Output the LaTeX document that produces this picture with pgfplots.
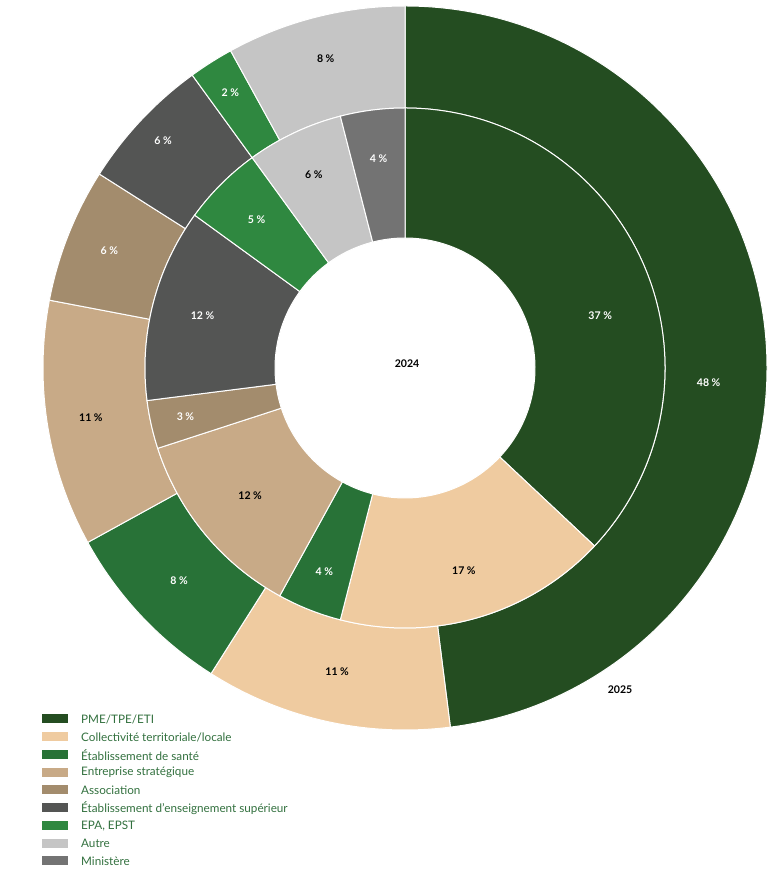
\documentclass[border=0pt]{standalone}
\usepackage{pgfplots}
\pgfplotsset{compat=1.18}
\usepackage{pgfplotstable}
\usepackage{fontspec}
\setmainfont{Lato}

% segment colours
\definecolor{cPME}{RGB}{36,77,33}
\definecolor{cCol}{RGB}{239,203,160}
\definecolor{cSan}{RGB}{40,114,55}
\definecolor{cEnt}{RGB}{200,170,135}
\definecolor{cAss}{RGB}{163,140,109}
\definecolor{cSup}{RGB}{84,85,84}
\definecolor{cEpa}{RGB}{47,136,64}
\definecolor{cAut}{RGB}{197,197,197}
\definecolor{cMin}{RGB}{115,115,115}
\definecolor{legtext}{RGB}{50,112,62}

% 2025 -- outer ring (share in %, fill, label colour, label radius, label angle shift)
\pgfplotstableread{
val col  tc    lr  off
48  cPME white 304 -6.4
11  cCol black 311 0
8   cSan white 310 0
11  cEnt black 318 0
6   cAss white 318 0
6   cSup white 332 0
2   cEpa white 326 0
8   cAut black 319 0
}\outerdata

% 2024 -- inner ring
\pgfplotstableread{
val col  tc    lr  off
37  cPME white 202 -8.5
17  cCol black 211 0
4   cSan white 219 0
12  cEnt black 201 0
3   cAss white 225 0
12  cSup white 209 0
5   cEpa white 210 0
6   cAut black 214 0
4   cMin white 211 0
}\innerdata

\newcommand\labelfont{\bfseries\fontsize{10.6}{12}\selectfont}

% #1 table, #2 inner radius, #3 outer radius (bp); wedges run clockwise from 12 o'clock
\newcommand\drawring[3]{%
  \pgfplotstablegetrowsof{#1}%
  \pgfmathtruncatemacro\lastrow{\pgfplotsretval-1}%
  \xdef\cum{90}%
  \foreach \i in {0,...,\lastrow}{%
    \pgfplotstablegetelem{\i}{val}\of{#1}\let\wval\pgfplotsretval
    \pgfplotstablegetelem{\i}{col}\of{#1}\let\wcol\pgfplotsretval
    \pgfmathsetmacro\angA{\cum}%
    \pgfmathsetmacro\angB{\cum-3.6*\wval}%
    \edef\temp{\noexpand\filldraw[fill=\wcol, draw=white, line width=1bp]
      ([shift={(\angA:#3bp)}]ctr) arc[start angle=\angA, end angle=\angB, radius=#3bp]
      -- ([shift={(\angB:#2bp)}]ctr) arc[start angle=\angB, end angle=\angA, radius=#2bp] -- cycle;}%
    \temp
    \xdef\cum{\angB}%
  }%
  \xdef\cum{90}%
  \foreach \i in {0,...,\lastrow}{%
    \pgfplotstablegetelem{\i}{val}\of{#1}\let\wval\pgfplotsretval
    \pgfplotstablegetelem{\i}{tc}\of{#1}\let\wtc\pgfplotsretval
    \pgfplotstablegetelem{\i}{lr}\of{#1}\let\wlr\pgfplotsretval
    \pgfplotstablegetelem{\i}{off}\of{#1}\let\woff\pgfplotsretval
    \pgfmathsetmacro\angA{\cum}%
    \pgfmathsetmacro\angB{\cum-3.6*\wval}%
    \pgfmathsetmacro\angM{(\angA+\angB)/2+\woff}%
    \edef\temp{\noexpand\node[text=\wtc, font=\noexpand\labelfont, inner sep=0pt]
      at ([shift={(\angM:\wlr bp)}]ctr) {\wval\noexpand~\noexpand\%};}%
    \temp
    \xdef\cum{\angB}%
  }%
}

\newcommand\legitem[3]{%
  \fill[#2] (axis cs:42,{881-#1-4.5}) rectangle (axis cs:68,{881-#1+4.5});
  \node[anchor=west, inner sep=0pt, text=legtext, font=\fontsize{11.75}{13}\selectfont]
    at (axis cs:81,{881-#1}) {#3};
}

\begin{document}
\begin{tikzpicture}
\begin{axis}[x=1bp, y=1bp, xmin=0, xmax=777, ymin=0, ymax=881,
  hide axis, clip=false]
\path (axis cs:0,0) rectangle (axis cs:777,881);
\coordinate (ctr) at (axis cs:405,513);
\drawring{\outerdata}{260}{362}
\drawring{\innerdata}{130}{260}
\node[font=\labelfont] at (axis cs:407,517) {2024};
\node[font=\labelfont] at (axis cs:620,191) {2025};
\legitem{719}{cPME}{PME/TPE/ETI}
\legitem{737}{cCol}{Collectivité territoriale/locale}
\legitem{755}{cSan}{Établissement de santé}
\legitem{772.5}{cEnt}{Entreprise stratégique}
\legitem{790}{cAss}{Association}
\legitem{808}{cSup}{Établissement d’enseignement supérieur}
\legitem{826}{cEpa}{EPA, EPST}
\legitem{843.5}{cAut}{Autre}
\legitem{861}{cMin}{Ministère}
\end{axis}
\end{tikzpicture}
\end{document}
